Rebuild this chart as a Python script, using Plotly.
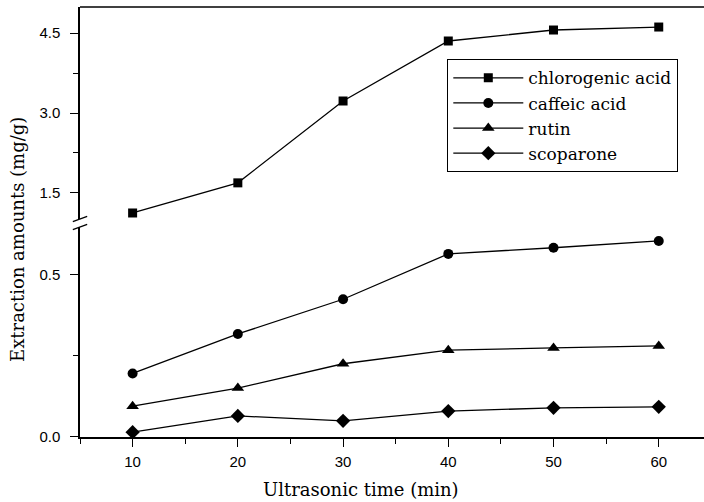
import plotly.graph_objects as go

# ---- data ----
time_min = [10, 20, 30, 40, 50, 60]
chlorogenic_acid = [1.125, 1.69, 3.225, 4.35, 4.556, 4.612]
caffeic_acid = [0.196, 0.318, 0.425, 0.565, 0.584, 0.605]
rutin = [0.095, 0.151, 0.226, 0.268, 0.275, 0.281]
scoparone = [0.015, 0.065, 0.05, 0.08, 0.09, 0.093]

series_names = ["chlorogenic acid", "caffeic acid", "rutin", "scoparone"]
lower_ticks = [0.0, 0.5]
upper_ticks = [1.5, 3.0, 4.5]
x_ticks = [10, 20, 30, 40, 50, 60]

SERIF = "DejaVu Serif"
SANS = "Liberation Sans"

fig = go.Figure()

line_style = dict(color="black", width=1.3)
fig.add_trace(go.Scatter(x=time_min, y=chlorogenic_acid, name=series_names[0],
                         mode="lines+markers", yaxis="y2", line=line_style,
                         marker=dict(symbol="square", size=9, color="black")))
fig.add_trace(go.Scatter(x=time_min, y=caffeic_acid, name=series_names[1],
                         mode="lines+markers", yaxis="y", line=line_style,
                         marker=dict(symbol="circle", size=10, color="black")))
fig.add_trace(go.Scatter(x=time_min, y=rutin, name=series_names[2],
                         mode="lines+markers", yaxis="y", line=line_style,
                         marker=dict(symbol="triangle-up", size=11, color="black")))
fig.add_trace(go.Scatter(x=time_min, y=scoparone, name=series_names[3],
                         mode="lines+markers", yaxis="y", line=line_style,
                         marker=dict(symbol="diamond", size=11, color="black")))

tickfont = dict(family=SANS, size=15, color="black")
common_axis = dict(showline=True, linecolor="black", linewidth=1.5, ticks="outside",
                   ticklen=8, tickwidth=1.3, tickcolor="black", showgrid=False,
                   zeroline=False, tickfont=tickfont)

fig.update_layout(
    width=704, height=502,
    margin=dict(l=80, r=0, t=7, b=65),
    paper_bgcolor="white", plot_bgcolor="white",
    showlegend=True,
    legend=dict(x=(447 - 80) / 624, y=(437 - 59) / 430, xanchor="left", yanchor="top",
                bordercolor="black", borderwidth=1.3, bgcolor="white",
                font=dict(family=SERIF, size=17, color="black"),
                itemwidth=70, tracegroupgap=0),
    xaxis=dict(range=[5, 64.3], tickvals=x_ticks, anchor="y", ticklabelstandoff=2,
               minor=dict(dtick=5, tick0=5, ticklen=5, tickcolor="black", ticks="outside", tickwidth=1.3),
               **common_axis),
    yaxis=dict(domain=[0, 0.4884], range=[0, 0.648], tickvals=lower_ticks,
               tickformat=".1f", anchor="x", ticklabelstandoff=7,
               minor=dict(dtick=0.25, tick0=0, ticklen=5, tickcolor="black", ticks="outside", tickwidth=1.3),
               **common_axis),
    yaxis2=dict(domain=[0.507, 1], range=[1.0125, 4.9875], tickvals=upper_ticks,
                tickformat=".1f", anchor="x", ticklabelstandoff=7,
                minor=dict(dtick=0.75, tick0=0, ticklen=5, tickcolor="black", ticks="outside", tickwidth=1.3),
                **common_axis),
)

# top frame line
fig.add_shape(type="line", xref="paper", yref="paper", x0=0, x1=1, y0=1, y1=1,
              line=dict(color="black", width=1.5))

# axis break marks
for yc in [0.507, 0.4884]:
    fig.add_shape(type="line", xref="paper", yref="paper",
                  x0=-0.0115, x1=0.0115, y0=yc - 0.006, y1=yc + 0.006,
                  line=dict(color="black", width=1.3))

# axis titles
fig.add_annotation(text="Ultrasonic time (min)", xref="paper", yref="paper",
                   x=(361 - 80) / 624, y=-(489 - 437) / 430, showarrow=False,
                   xanchor="center", yanchor="middle",
                   font=dict(family=SERIF, size=18, color="black"))
fig.add_annotation(text="Extraction amounts (mg/g)", xref="paper", yref="paper",
                   x=-(80 - 17) / 624, y=(437 - 240) / 430, showarrow=False,
                   xanchor="center", yanchor="middle", textangle=-90,
                   font=dict(family=SERIF, size=18, color="black"))

fig.write_html("out.html", config={"displayModeBar": False},
               post_script="document.body.style.margin='0px';")
